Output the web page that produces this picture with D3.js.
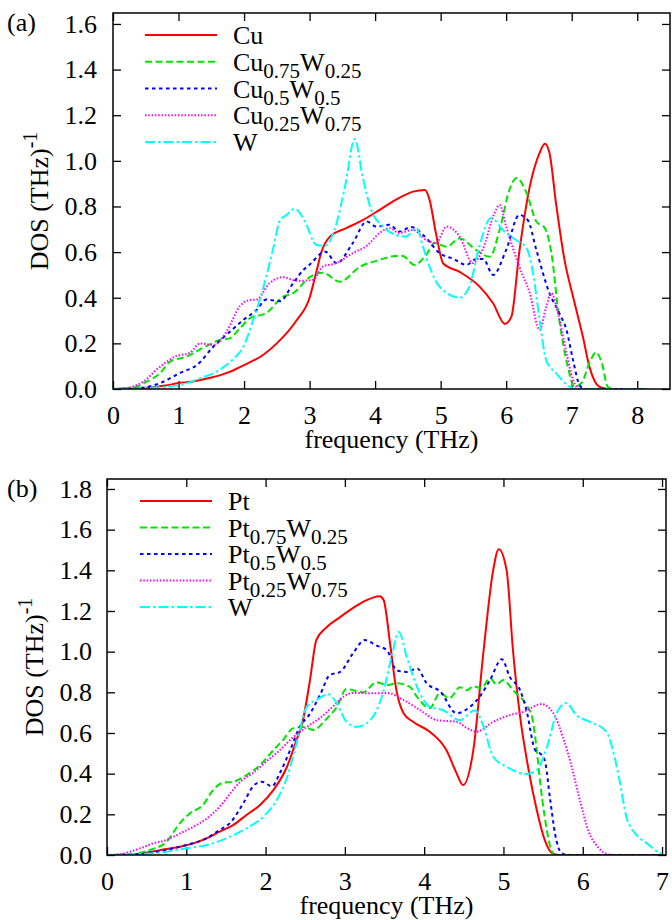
<!DOCTYPE html>
<html>
<head>
<meta charset="utf-8">
<script src="https://cdnjs.cloudflare.com/ajax/libs/d3/7.8.5/d3.min.js"></script>
<style>
  body { margin: 0; background: #fff; }
  svg { display: block; }
  .frame { fill: none; stroke: #000; stroke-width: 1.5; }
  .tick line { stroke: #000; stroke-width: 1.3; }
</style>
</head>
<body>
<div id="chart"></div>
<script>

// ---- panel (a) : Cu-W, DOS vs frequency (THz) ----
var cu = [[0,0],[0.3,0.002],[0.6,0.008],[0.8,0.015],[1.0,0.026],[1.2,0.032],[1.5,0.05],[1.78,0.075],[2.0,0.105],[2.29,0.149],[2.5,0.2],[2.8,0.3],[3.0,0.4],[3.1,0.51],[3.18,0.6],[3.31,0.668],[3.56,0.705],[3.81,0.74],[4.07,0.785],[4.32,0.83],[4.58,0.865],[4.76,0.872],[4.83,0.83],[4.93,0.68],[5.04,0.55],[5.29,0.513],[5.59,0.45],[5.8,0.376],[5.98,0.285],[6.08,0.317],[6.2,0.6],[6.36,0.887],[6.51,1.035],[6.59,1.075],[6.66,1.035],[6.76,0.815],[6.89,0.566],[7.02,0.405],[7.17,0.23],[7.27,0.098],[7.42,0.01],[7.55,0],[8.15,0]];
var cu75w25 = [[0,0],[0.3,0.005],[0.5,0.03],[0.72,0.07],[0.87,0.12],[1.12,0.142],[1.37,0.18],[1.63,0.215],[1.78,0.222],[1.94,0.267],[2.09,0.31],[2.34,0.333],[2.6,0.405],[2.75,0.42],[3.0,0.49],[3.2,0.51],[3.46,0.47],[3.77,0.536],[4.07,0.566],[4.32,0.583],[4.42,0.583],[4.6,0.544],[4.78,0.588],[4.91,0.64],[5.09,0.624],[5.29,0.66],[5.54,0.61],[5.75,0.58],[5.9,0.697],[6.05,0.873],[6.16,0.925],[6.31,0.86],[6.46,0.734],[6.59,0.705],[6.69,0.596],[6.81,0.303],[6.94,0.098],[7.04,0.01],[7.15,0.026],[7.27,0.114],[7.37,0.16],[7.46,0.114],[7.55,0.01],[7.65,0],[8.15,0]];
var cu5w5 = [[0,0],[0.43,0.005],[0.72,0.026],[1.02,0.07],[1.28,0.105],[1.53,0.185],[1.78,0.25],[1.99,0.303],[2.19,0.346],[2.34,0.392],[2.55,0.385],[2.75,0.464],[2.9,0.52],[3.0,0.545],[3.24,0.602],[3.41,0.552],[3.66,0.64],[3.87,0.734],[4.02,0.712],[4.22,0.72],[4.37,0.69],[4.55,0.71],[4.76,0.668],[4.98,0.596],[5.2,0.57],[5.39,0.544],[5.55,0.57],[5.65,0.57],[5.8,0.5],[6.0,0.61],[6.2,0.763],[6.33,0.74],[6.46,0.61],[6.66,0.42],[6.81,0.333],[6.92,0.259],[7.02,0.127],[7.12,0.017],[7.2,0],[8.15,0]];
var cu25w75 = [[0,0],[0.18,0.003],[0.46,0.032],[0.72,0.098],[0.97,0.145],[1.17,0.158],[1.33,0.2],[1.53,0.193],[1.73,0.25],[1.94,0.365],[2.09,0.39],[2.19,0.392],[2.39,0.464],[2.6,0.49],[2.8,0.474],[3.05,0.478],[3.2,0.536],[3.41,0.552],[3.66,0.596],[3.87,0.627],[4.07,0.684],[4.22,0.705],[4.37,0.684],[4.58,0.697],[4.78,0.653],[4.93,0.64],[5.09,0.712],[5.29,0.668],[5.49,0.552],[5.64,0.61],[5.82,0.77],[5.9,0.807],[6.0,0.712],[6.2,0.536],[6.36,0.42],[6.51,0.259],[6.61,0.36],[6.69,0.42],[6.79,0.333],[6.92,0.158],[7.02,0.04],[7.12,0],[8.15,0]];
var wA = [[0,0],[0.5,0.004],[1.02,0.017],[1.33,0.047],[1.58,0.076],[1.83,0.13],[1.99,0.185],[2.14,0.303],[2.29,0.44],[2.44,0.61],[2.55,0.74],[2.65,0.763],[2.77,0.79],[2.92,0.74],[3.1,0.632],[3.23,0.627],[3.38,0.697],[3.54,0.887],[3.69,1.096],[3.81,0.93],[3.94,0.785],[4.12,0.712],[4.32,0.675],[4.47,0.668],[4.63,0.705],[4.73,0.624],[4.83,0.536],[4.98,0.45],[5.29,0.4],[5.44,0.45],[5.59,0.624],[5.77,0.75],[5.95,0.697],[6.15,0.653],[6.31,0.618],[6.41,0.508],[6.51,0.303],[6.61,0.127],[6.76,0.07],[6.97,0.01],[7.05,0],[8.15,0]];

// ---- panel (b) : Pt-W ----
var pt = [[0,0],[0.33,0.003],[0.75,0.03],[0.92,0.041],[1.09,0.057],[1.26,0.083],[1.42,0.115],[1.59,0.147],[1.76,0.197],[1.93,0.246],[2.1,0.32],[2.27,0.434],[2.39,0.565],[2.47,0.66],[2.56,0.86],[2.64,1.057],[2.77,1.12],[2.94,1.17],[3.1,1.214],[3.23,1.245],[3.44,1.273],[3.49,1.253],[3.57,1.04],[3.65,0.81],[3.74,0.697],[3.86,0.655],[4.07,0.606],[4.28,0.516],[4.4,0.41],[4.49,0.344],[4.62,0.516],[4.75,1.007],[4.87,1.4],[4.94,1.504],[5.04,1.4],[5.12,1.007],[5.21,0.68],[5.31,0.434],[5.42,0.221],[5.52,0.074],[5.61,0.01],[5.7,0],[7.0,0]];
var pt75w25 = [[0,0],[0.3,0.003],[0.54,0.025],[0.75,0.065],[0.92,0.157],[1.05,0.206],[1.21,0.246],[1.34,0.32],[1.46,0.355],[1.59,0.36],[1.76,0.393],[1.93,0.442],[2.1,0.516],[2.22,0.565],[2.35,0.624],[2.48,0.63],[2.6,0.615],[2.77,0.67],[2.9,0.729],[3.02,0.816],[3.23,0.8],[3.4,0.85],[3.53,0.835],[3.65,0.845],[3.82,0.827],[3.91,0.778],[4.07,0.722],[4.2,0.796],[4.32,0.771],[4.45,0.825],[4.54,0.81],[4.62,0.83],[4.72,0.82],[4.83,0.87],[4.91,0.84],[5.0,0.86],[5.12,0.81],[5.29,0.737],[5.36,0.68],[5.42,0.516],[5.46,0.368],[5.52,0.188],[5.59,0.041],[5.65,0],[7.0,0]];
var pt5w5 = [[0,0],[0.35,0.003],[0.75,0.025],[1.0,0.049],[1.26,0.083],[1.42,0.123],[1.55,0.157],[1.72,0.255],[1.84,0.336],[1.95,0.36],[2.08,0.338],[2.18,0.403],[2.31,0.516],[2.43,0.63],[2.56,0.695],[2.69,0.79],[2.81,0.885],[2.94,0.9],[3.1,0.99],[3.25,1.057],[3.4,1.03],[3.53,1.007],[3.65,0.909],[3.78,0.9],[3.91,0.918],[4.03,0.845],[4.2,0.805],[4.41,0.697],[4.58,0.729],[4.7,0.778],[4.83,0.86],[4.98,0.963],[5.08,0.876],[5.21,0.81],[5.29,0.712],[5.4,0.516],[5.46,0.5],[5.52,0.467],[5.59,0.27],[5.65,0.106],[5.73,0.01],[5.8,0],[7.0,0]];
var pt25w75 = [[0,0],[0.14,0.003],[0.42,0.033],[0.58,0.057],[0.75,0.074],[0.92,0.106],[1.09,0.139],[1.26,0.18],[1.42,0.237],[1.55,0.3],[1.68,0.36],[1.84,0.403],[2.01,0.46],[2.18,0.516],[2.35,0.58],[2.52,0.63],[2.69,0.675],[2.85,0.73],[2.98,0.778],[3.1,0.797],[3.34,0.795],[3.53,0.797],[3.74,0.762],[3.95,0.712],[4.16,0.663],[4.41,0.655],[4.54,0.624],[4.66,0.606],[4.87,0.655],[5.08,0.688],[5.25,0.704],[5.48,0.742],[5.63,0.697],[5.75,0.58],[5.86,0.434],[5.97,0.26],[6.07,0.12],[6.2,0.035],[6.32,0.003],[6.4,0],[7.0,0]];
var wB = [[0,0],[0.5,0.006],[0.75,0.016],[1.0,0.033],[1.26,0.049],[1.51,0.083],[1.76,0.131],[1.97,0.188],[2.14,0.27],[2.27,0.38],[2.39,0.55],[2.52,0.729],[2.64,0.762],[2.79,0.79],[2.9,0.745],[3.02,0.655],[3.15,0.63],[3.32,0.663],[3.48,0.796],[3.59,0.975],[3.68,1.097],[3.78,0.975],[3.91,0.827],[4.07,0.729],[4.24,0.712],[4.45,0.663],[4.64,0.712],[4.75,0.63],[4.87,0.483],[5.04,0.434],[5.29,0.398],[5.42,0.418],[5.55,0.532],[5.67,0.697],[5.79,0.748],[5.92,0.688],[6.09,0.655],[6.3,0.606],[6.38,0.516],[6.47,0.354],[6.55,0.188],[6.68,0.098],[6.81,0.057],[6.97,0.01],[7.0,0.005]];

// legend labels: [base, sub, base, sub]
var labelsA = [["Cu"], ["Cu","0.75","W","0.25"], ["Cu","0.5","W","0.5"], ["Cu","0.25","W","0.75"], ["W"]];
var labelsB = [["Pt"], ["Pt","0.75","W","0.25"], ["Pt","0.5","W","0.5"], ["Pt","0.25","W","0.75"], ["W"]];
var xTicksA = [0,1,2,3,4,5,6,7,8];
var xTicksB = [0,1,2,3,4,5,6,7];
var yTicksA = [0,0.2,0.4,0.6,0.8,1.0,1.2,1.4,1.6];
var yTicksB = [0,0.2,0.4,0.6,0.8,1.0,1.2,1.4,1.6,1.8];

var FONT = "'Liberation Serif', 'Times New Roman', serif";

// gnuplot-like line types
var styles = [
  {color: "#ff0000", dash: null},
  {color: "#00e600", dash: "7,3.5"},
  {color: "#0000ff", dash: "3.5,3.5"},
  {color: "#ff00ff", dash: "1.5,1.8"},
  {color: "#00ffff", dash: "10,3,2.5,3"}
];

var svg = d3.select("#chart").append("svg")
  .attr("width", 672)
  .attr("height", 920)
  .style("font-family", FONT);

drawPanel({
  id: "a", letter: "(a)", letterY: 31,
  left: 113, right: 670, top: 13, bottom: 389,
  xmax: 8.5, ymax: 1.648,
  xticks: xTicksA, yticks: yTicksA,
  series: [cu, cu75w25, cu5w5, cu25w75, wA], labels: labelsA,
  legX: 145, legY: 35, legStep: 26.75,
  ytitleX: 48, xtitleY: 448
});

drawPanel({
  id: "b", letter: "(b)", letterY: 497,
  left: 107, right: 666, top: 479, bottom: 855,
  xmax: 7.05, ymax: 1.849,
  xticks: xTicksB, yticks: yTicksB,
  series: [pt, pt75w25, pt5w5, pt25w75, wB], labels: labelsB,
  legX: 140, legY: 501, legStep: 26.5,
  ytitleX: 43, xtitleY: 914
});

function drawPanel(p) {
  var w = p.right - p.left, h = p.bottom - p.top;
  var g = svg.append("g").attr("transform", "translate(" + p.left + "," + p.top + ")");

  var x = d3.scaleLinear().domain([0, p.xmax]).range([0, w]);
  var y = d3.scaleLinear().domain([0, p.ymax]).range([h, 0]);

  svg.append("clipPath").attr("id", "clip" + p.id)
    .append("rect").attr("width", w).attr("height", h);

  // inward ticks on all four sides
  g.append("g").attr("transform", "translate(0," + h + ")")
    .call(d3.axisBottom(x).tickValues(p.xticks).tickFormat(d3.format("d"))
      .tickSizeInner(-8).tickSizeOuter(0).tickPadding(17));
  g.append("g")
    .call(d3.axisTop(x).tickValues(p.xticks).tickFormat("").tickSizeInner(-8).tickSizeOuter(0));
  g.append("g")
    .call(d3.axisLeft(y).tickValues(p.yticks).tickFormat(d3.format(".1f"))
      .tickSizeInner(-8).tickSizeOuter(0).tickPadding(p.id == "a" ? 16 : 15));
  g.append("g").attr("transform", "translate(" + w + ",0)")
    .call(d3.axisRight(y).tickValues(p.yticks).tickFormat("").tickSizeInner(-8).tickSizeOuter(0));

  g.selectAll(".domain").remove();
  g.selectAll("g").attr("font-family", null).attr("font-size", null);
  g.selectAll(".tick text")
    .style("font-family", FONT)
    .style("font-size", "26px")
    .attr("fill", "#000");

  // curves
  var line = d3.line()
    .x(function(d){ return x(d[0]); })
    .y(function(d){ return y(d[1]); })
    .curve(d3.curveMonotoneX);

  var curves = g.append("g").attr("clip-path", "url(#clip" + p.id + ")");
  p.series.forEach(function(s, i){
    curves.append("path")
      .datum(s)
      .attr("d", line)
      .attr("fill", "none")
      .attr("stroke", styles[i].color)
      .attr("stroke-width", 2)
      .attr("stroke-dasharray", styles[i].dash);
  });

  g.append("rect").attr("class", "frame").attr("width", w).attr("height", h);

  // legend
  p.labels.forEach(function(lab, i){
    var ly = p.legY + i * p.legStep;
    svg.append("line")
      .attr("x1", p.legX).attr("x2", p.legX + 72)
      .attr("y1", ly).attr("y2", ly)
      .attr("stroke", styles[i].color)
      .attr("stroke-width", 2)
      .attr("stroke-dasharray", styles[i].dash);

    var t = svg.append("text")
      .attr("x", p.legX + 88).attr("y", ly + 9)
      .style("font-family", FONT)
      .style("font-size", "26px");
    t.append("tspan").text(lab[0]);
    if (lab.length > 1) {
      t.append("tspan").attr("dy", 7).style("font-size", "21px").text(lab[1]);
      t.append("tspan").attr("dy", -7).text(lab[2]);
      t.append("tspan").attr("dy", 7).style("font-size", "21px").text(lab[3]);
    }
  });

  // axis titles
  var yt = svg.append("text")
    .attr("transform", "translate(" + p.ytitleX + "," + (p.top + h / 2) + ") rotate(-90)")
    .attr("text-anchor", "middle")
    .style("font-family", FONT)
    .style("font-size", "26px");
  yt.append("tspan").text("DOS (THz)");
  yt.append("tspan").attr("dy", -11).style("font-size", "20px").text("-1");

  svg.append("text")
    .attr("x", p.left + w / 2).attr("y", p.xtitleY)
    .attr("text-anchor", "middle")
    .style("font-family", FONT)
    .style("font-size", "26px")
    .text("frequency (THz)");

  svg.append("text")
    .attr("x", 7).attr("y", p.letterY)
    .style("font-family", FONT)
    .style("font-size", "26px")
    .text(p.letter);
}
</script>
</body>
</html>
